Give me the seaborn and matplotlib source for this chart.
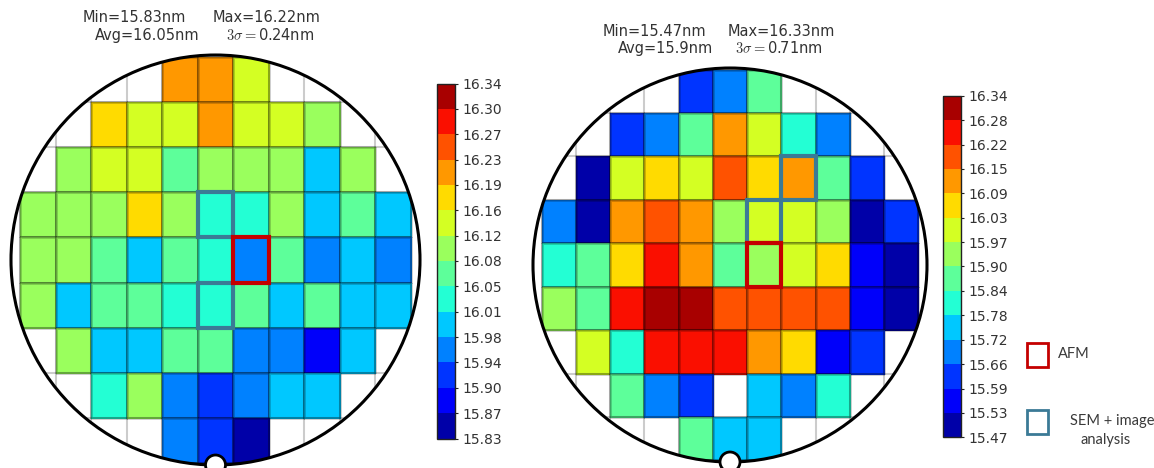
import numpy as np
import matplotlib
matplotlib.use("Agg")
import matplotlib.pyplot as plt
import seaborn as sns
import pandas as pd
from matplotlib.patches import Ellipse, Rectangle
from matplotlib.colors import ListedColormap

n = np.nan

# ---------------- data ----------------
left_values = [
    [n, n, n, n, 16.21, 16.22, 16.14, n, n, n, n],
    [n, n, 16.18, 16.14, 16.14, 16.21, 16.14, 16.14, 16.10, n, n],
    [n, 16.10, 16.14, 16.14, 16.07, 16.10, 16.10, 16.10, 15.99, 16.10, n],
    [16.10, 16.10, 16.10, 16.18, 16.10, 16.03, 16.03, 16.10, 15.99, 16.07, 15.99],
    [16.10, 16.10, 16.07, 15.99, 16.07, 16.03, 15.96, 16.07, 15.96, 15.99, 15.96],
    [16.10, 15.99, 16.07, 16.07, 16.03, 16.03, 16.07, 15.99, 16.07, 15.99, 15.99],
    [n, 16.10, 15.99, 15.99, 16.07, 16.07, 15.96, 15.96, 15.88, 15.99, n],
    [n, n, 16.03, 16.10, 15.96, 15.92, 15.96, 15.99, 15.99, n, n],
    [n, n, n, n, 15.96, 15.92, 15.83, n, n, n, n],
]
right_values = [
    [n, n, n, n, 15.62, 15.69, 15.87, n, n, n, n],
    [n, n, 15.62, 15.69, 15.87, 16.12, 16.00, 15.81, 15.69, n, n],
    [n, 15.50, 16.00, 16.06, 16.00, 16.19, 16.06, 16.12, 15.87, 15.62, n],
    [15.69, 15.49, 16.12, 16.19, 16.12, 15.94, 16.00, 16.00, 15.94, 15.50, 15.62],
    [15.81, 15.87, 16.06, 16.25, 16.12, 15.87, 15.94, 16.00, 16.06, 15.56, 15.50],
    [15.94, 15.87, 16.25, 16.33, 16.31, 16.19, 16.19, 16.19, 16.19, 15.56, 15.47],
    [n, 16.00, 15.81, 16.25, 16.25, 16.25, 16.12, 16.06, 15.56, 15.62, n],
    [n, n, 15.87, 15.69, 15.62, n, 15.75, 15.69, 15.81, n, n],
    [n, n, n, n, 15.87, 15.75, 15.75, n, n, n, n],
]

left_range = (15.83, 16.34)
right_range = (15.47, 16.34)
left_ticklabels = ["15.83", "15.87", "15.90", "15.94", "15.98", "16.01", "16.05", "16.08",
                   "16.12", "16.16", "16.19", "16.23", "16.27", "16.30", "16.34"]
right_ticklabels = ["15.47", "15.53", "15.59", "15.66", "15.72", "15.78", "15.84", "15.90",
                    "15.97", "16.03", "16.09", "16.15", "16.22", "16.28", "16.34"]

left_stats = ["Min=15.83nm", "Max=16.22nm", "Avg=16.05nm", r"$3\sigma=$0.24nm"]
right_stats = ["Min=15.47nm", "Max=16.33nm", "Avg=15.9nm", r"$3\sigma=$0.71nm"]

# measurement sites (column, row)
left_sem = [(5, 3), (5, 5)]
left_afm = [(6, 4)]
right_sem = [(7, 2), (6, 3)]
right_afm = [(6, 4)]

legend_labels = ["AFM", "SEM + image", "analysis"]

# ---------------- style ----------------
W, H = 1154, 468
plt.rcParams["mathtext.fontset"] = "cm"
sns.set_style("white")
plt.rcParams["font.family"] = ["DejaVu Sans"]

fig = plt.figure(figsize=(W / 100, H / 100), dpi=100)
fig.patch.set_facecolor("white")

NLEV = 14
cmap = ListedColormap(matplotlib.colormaps["jet"](np.linspace(0.5 / NLEV, 1 - 0.5 / NLEV, NLEV)))
TXT = "#333333"
RED = "#c40000"
TEAL = "#3b7a96"


def box(x0, y0, x1, y1):
    return [x0 / W, 1 - y1 / H, (x1 - x0) / W, (y1 - y0) / H]


def draw_wafer(ax_box, cax_box, values, vrange, ticklabels, sem, afm, hx, hy):
    ax = fig.add_axes(ax_box)
    cax = fig.add_axes(cax_box)
    df = pd.DataFrame(values)
    sns.heatmap(df, ax=ax, cmap=cmap, vmin=vrange[0], vmax=vrange[1], cbar_ax=cax,
                linewidths=1.0, linecolor=(0, 0, 0, 0.18),
                xticklabels=False, yticklabels=False)
    mesh = ax.collections[0]
    # edges only around measured dies
    filled = ~np.isnan(df.to_numpy()).ravel()
    ec = np.zeros((filled.size, 4))
    ec[filled] = (0, 0, 0, 0.18)
    mesh.set_edgecolor(ec)

    ax.set_xlim(5.5 - hx, 5.5 + hx)
    ax.set_ylim(4.5 + hy, 4.5 - hy)
    ax.set_axis_off()

    clip = Ellipse((0.5, 0.5), 1, 1, transform=ax.transAxes, fill=False)
    mesh.set_clip_path(clip)
    nrows, ncols = df.shape
    gcol = [(0, 0, 0, 0.2)]
    vl = ax.vlines(range(ncols + 1), 0, nrows, colors=gcol, linewidth=1.5, zorder=3)
    hl = ax.hlines(range(nrows + 1), 0, ncols, colors=gcol, linewidth=1.5, zorder=3)
    vl.set_clip_path(clip)
    hl.set_clip_path(clip)

    for (c, r) in sem:
        ax.add_patch(Rectangle((c, r), 1, 1, fill=False, edgecolor=TEAL, linewidth=3, zorder=5))
    for (c, r) in afm:
        ax.add_patch(Rectangle((c, r), 1, 1, fill=False, edgecolor=RED, linewidth=3, zorder=5))

    ax.add_patch(Ellipse((0.5, 0.5), 1, 1, transform=ax.transAxes, fill=False,
                         edgecolor="black", linewidth=2.2, clip_on=False, zorder=6))
    ax.add_patch(Ellipse((0.5, 0.0), 20 / (ax_box[2] * W), 20 / (ax_box[3] * H),
                         transform=ax.transAxes, facecolor="white", edgecolor="black",
                         linewidth=2, clip_on=False, zorder=7))

    cb = mesh.colorbar
    cb.set_ticks(np.linspace(vrange[0], vrange[1], NLEV + 1))
    cb.set_ticklabels(ticklabels)
    cb.outline.set_visible(True)
    cb.outline.set_linewidth(1.0)
    cb.outline.set_edgecolor("#222222")
    cax.tick_params(axis="y", length=2, width=0.8, pad=3, labelsize=10,
                    colors="#222222", labelcolor=TXT)
    return ax


draw_wafer(box(11, 55, 420, 465), box(437, 83.5, 455, 438.5), left_values, left_range,
           left_ticklabels, left_sem, left_afm, 409 / 2 / 35.55, 410 / 2 / 45.1)
draw_wafer(box(533, 68, 927, 462), box(943, 95.7, 961, 437.3), right_values, right_range,
           right_ticklabels, right_sem, right_afm, 394 / 2 / 34.24, 394 / 2 / 43.43)


def ftext(x, y, s, **kw):
    fig.text(x / W, 1 - y / H, s, **kw)


stat_kw = dict(fontsize=10.5, color=TXT, va="baseline", ha="left")
ftext(83, 21.7, left_stats[0], **stat_kw)
ftext(212.3, 21.7, left_stats[1], **stat_kw)
ftext(95, 40, left_stats[2], **stat_kw)
ftext(225.7, 40, left_stats[3], **stat_kw)
ftext(602.7, 36, right_stats[0], **stat_kw)
ftext(727.3, 36, right_stats[1], **stat_kw)
ftext(618.3, 53.3, right_stats[2], **stat_kw)
ftext(735, 53.3, right_stats[3], **stat_kw)

# legend
fig.patches.append(Rectangle((1026.5 / W, 1 - 367 / H), 21 / W, 24 / H, fill=False,
                             edgecolor=RED, linewidth=2, transform=fig.transFigure, figure=fig))
fig.patches.append(Rectangle((1026.5 / W, 1 - 434 / H), 21 / W, 24 / H, fill=False,
                             edgecolor=TEAL, linewidth=2, transform=fig.transFigure, figure=fig))
leg_kw = dict(fontsize=10.5, color="#3a3a3a", family=["Lato", "DejaVu Sans"], va="center")
ftext(1057.5, 354, legend_labels[0], ha="left", **leg_kw)
ftext(1070, 421.5, legend_labels[1], ha="left", **leg_kw)
ftext(1106, 440, legend_labels[2], ha="center", **leg_kw)

fig.savefig("out.png", dpi=100)
